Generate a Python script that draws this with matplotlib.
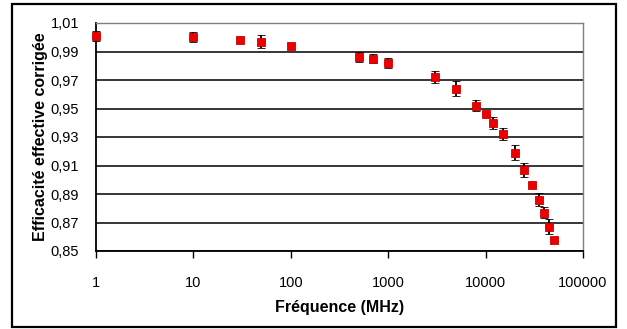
import matplotlib
matplotlib.use("Agg")
import matplotlib.pyplot as plt
from matplotlib.patches import Rectangle
from matplotlib.ticker import FixedLocator, FuncFormatter, NullLocator

# Data
freq_mhz = [1, 10, 30, 50, 100, 500, 700, 1000, 3000, 5000, 8000, 10000,
            12000, 15000, 20000, 25000, 30000, 35000, 40000, 45000, 50000]
efficiency = [1.001, 1.000, 0.998, 0.997, 0.994, 0.986, 0.985, 0.982, 0.972,
              0.964, 0.952, 0.946, 0.940, 0.932, 0.919, 0.907, 0.896, 0.886,
              0.877, 0.867, 0.858]
uncertainty = [0.0037, 0.0035, 0.0015, 0.0045, 0.0012, 0.0033, 0.0033, 0.0037,
               0.0042, 0.0052, 0.0040, 0.0012, 0.0042, 0.0040, 0.0052, 0.0050,
               0.0012, 0.0044, 0.0036, 0.0052, 0.0012]
y_ticks = [0.85, 0.87, 0.89, 0.91, 0.93, 0.95, 0.97, 0.99, 1.01]
x_ticks = [1, 10, 100, 1000, 10000, 100000]
x_tick_labels = ["1", "10", "100", "1000", "10000", "100000"]
x_label = "Fréquence (MHz)"
y_label = "Efficacité effective corrigée"

plt.rcParams["font.family"] = ["Liberation Sans", "DejaVu Sans"]

fig = plt.figure(figsize=(6.27, 3.29), dpi=100)
fig.patch.set_facecolor("white")
ax = fig.add_axes([96 / 627, 1 - 251 / 329, (583 - 96) / 627, (251 - 23) / 329])

ax.set_xscale("log")
ax.set_xlim(1, 100000)
ax.set_ylim(0.85, 1.01)

for yv in y_ticks:
    ax.axhline(yv, color="black", lw=1.1, zorder=1)

ax.errorbar(freq_mhz, efficiency, yerr=uncertainty, fmt="s", color="black",
            ecolor="black", elinewidth=1.3, capsize=2.6, capthick=1.5,
            markersize=5.2, markerfacecolor="#ee0000", markeredgecolor="#cc0000",
            markeredgewidth=0.6, zorder=3, clip_on=False)

ax.xaxis.set_major_locator(FixedLocator(x_ticks))
ax.xaxis.set_minor_locator(NullLocator())
ax.set_xticklabels(x_tick_labels)
ax.yaxis.set_major_locator(FixedLocator(y_ticks))
ax.yaxis.set_major_formatter(FuncFormatter(lambda v, p: f"{v:.2f}".replace(".", ",")))

ax.tick_params(axis="x", direction="out", length=5, width=1, color="black",
               labelsize=10.5, pad=13)
ax.tick_params(axis="y", length=0, labelsize=10.5, pad=12)

for s in ["left", "bottom"]:
    ax.spines[s].set_color("black")
    ax.spines[s].set_linewidth(1.3)
for s in ["top", "right"]:
    ax.spines[s].set_color("#808080")
    ax.spines[s].set_linewidth(1.0)

ax.set_xlabel(x_label, fontsize=11.5, fontweight="bold", labelpad=7)
ax.set_ylabel(y_label, fontsize=11.5, fontweight="bold", labelpad=2)

fig.patches.append(Rectangle((12 / 627, 1 - 327 / 329), (616 - 12) / 627,
                             (327 - 4) / 329, transform=fig.transFigure,
                             fill=False, edgecolor="black", linewidth=1.6))

fig.savefig("out.png", dpi=100, facecolor="white")
